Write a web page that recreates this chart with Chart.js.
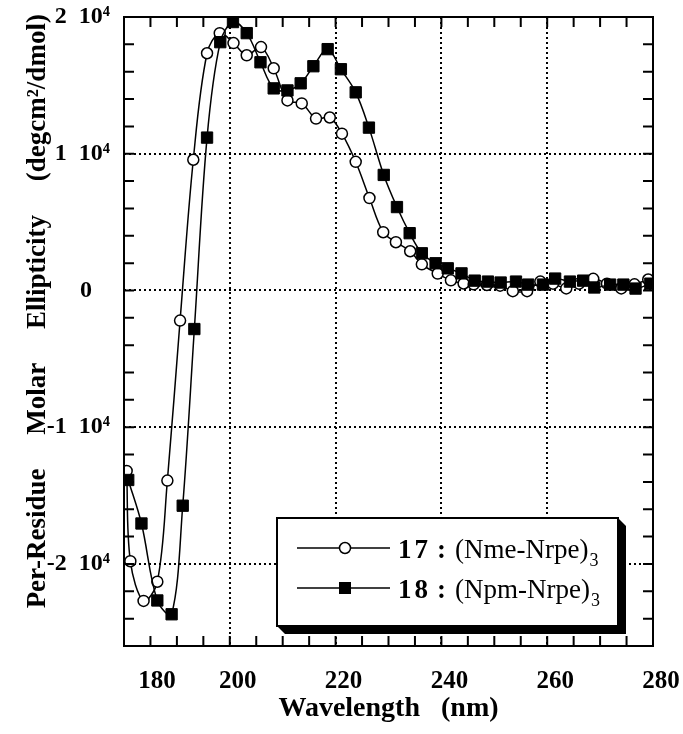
<!DOCTYPE html>
<html>
<head>
<meta charset="utf-8">
<script src="https://cdn.jsdelivr.net/npm/chart.js@4.4.1/dist/chart.umd.min.js"></script>
<style>
  html, body { margin: 0; padding: 0; background: #fff; }
  #wrap { width: 683px; height: 734px; }
</style>
</head>
<body>
<div id="wrap"><canvas id="cd" width="683" height="734"></canvas></div>
<script>
/* ---------- DATA ---------- */
const wl17 = [180.5, 181.2, 183.7, 186.3, 188.2, 190.6, 193.1, 195.7, 198.1, 200.7, 203.2, 205.9, 208.3, 210.9, 213.6, 216.3, 218.9, 221.2, 223.8, 226.4, 229.0, 231.4, 234.1, 236.3, 239.3, 241.8, 244.2, 246.1, 248.6, 251.1, 253.5, 256.2, 258.7, 261.1, 263.6, 266.0, 268.7, 271.3, 274.0, 276.5, 279.1];
const cd17 = [-13200, -19800, -22700, -21300, -13900, -2200, 9560, 17350, 18820, 18090, 17200, 17800, 16250, 13900, 13680, 12570, 12650, 11470, 9410, 6760, 4260, 3530, 2870, 1910, 1240, 740, 510, 450, 400, 350, -50, -50, 650, 500, 150, 500, 850, 500, 150, 450, 800];

const wl18 = [180.8, 183.3, 186.3, 189.0, 191.1, 193.3, 195.7, 198.2, 200.6, 203.2, 205.8, 208.3, 210.9, 213.4, 215.8, 218.5, 221.0, 223.8, 226.3, 229.1, 231.6, 234.0, 236.3, 238.9, 241.2, 243.8, 246.3, 248.8, 251.2, 254.1, 256.4, 259.2, 261.5, 264.3, 266.8, 268.9, 271.9, 274.4, 276.7, 279.5];
const cd18 = [-13860, -17040, -22670, -23680, -15740, -2820, 11180, 18160, 19630, 18820, 16690, 14780, 14630, 15150, 16400, 17650, 16180, 14490, 11910, 8450, 6100, 4190, 2720, 1990, 1620, 1250, 720, 650, 580, 650, 430, 430, 870, 650, 720, 220, 430, 430, 140, 500];

const xTicks = [180, 200, 220, 240, 260, 280];
const yTicks = [-20000, -10000, 0, 10000, 20000];
const legendNums = ["17", "18"];
const legendNames = ["(Nme-Nrpe)", "(Npm-Nrpe)"];
const legendSub = "3";

const SERIF = "'Liberation Serif', 'Times New Roman', serif";
const toPts = (xs, ys) => xs.map((x, i) => ({ x, y: ys[i] }));

/* ---------- FRAME, MINOR TICKS, LEGEND ---------- */
const decor = {
  id: "decor",
  afterDraw(chart) {
    const { ctx, chartArea: a, scales: { x, y } } = chart;
    ctx.save();
    ctx.strokeStyle = "#000";
    ctx.lineWidth = 2;

    // inward minor ticks
    ctx.beginPath();
    for (let v = 180; v <= 280; v += 5) {
      const px = x.getPixelForValue(v);
      ctx.moveTo(px, a.bottom); ctx.lineTo(px, a.bottom - 10);
      ctx.moveTo(px, a.top); ctx.lineTo(px, a.top + 10);
    }
    for (let v = -26000; v <= 20000; v += 2000) {
      const py = y.getPixelForValue(v);
      ctx.moveTo(a.left, py); ctx.lineTo(a.left + 10, py);
      ctx.moveTo(a.right, py); ctx.lineTo(a.right - 10, py);
    }
    ctx.stroke();
    ctx.strokeRect(a.left, a.top, a.right - a.left, a.bottom - a.top);

    // legend box with shadow
    const lx = 277, ly = 518, lw = 341, lh = 108, sh = 8;
    ctx.fillStyle = "#000";
    ctx.beginPath();
    ctx.moveTo(lx + lw, ly);
    ctx.lineTo(lx + lw + sh, ly + sh);
    ctx.lineTo(lx + lw + sh, ly + lh + sh);
    ctx.lineTo(lx + sh, ly + lh + sh);
    ctx.lineTo(lx, ly + lh);
    ctx.closePath();
    ctx.fill();
    ctx.fillStyle = "#fff";
    ctx.fillRect(lx, ly, lw, lh);
    ctx.strokeRect(lx, ly, lw, lh);

    const rows = [548, 588];
    rows.forEach((ry, i) => {
      ctx.lineWidth = 1.5;
      ctx.beginPath();
      ctx.moveTo(297, ry); ctx.lineTo(390, ry);
      ctx.stroke();
      if (i === 0) {
        ctx.fillStyle = "#fff";
        ctx.beginPath();
        ctx.arc(345, ry, 5.5, 0, Math.PI * 2);
        ctx.fill(); ctx.stroke();
      } else {
        ctx.fillStyle = "#000";
        ctx.fillRect(339, ry - 6, 12, 12);
      }
      const base = ry + 10;
      ctx.fillStyle = "#000";
      ctx.textBaseline = "alphabetic";
      ctx.font = "bold 27px " + SERIF;
      ctx.letterSpacing = "3px";
      ctx.fillText(legendNums[i], 398, base);
      ctx.letterSpacing = "0px";
      ctx.fillText(":", 437, base);
      ctx.font = "27px " + SERIF;
      ctx.fillText(legendNames[i], 455, base);
      const w = ctx.measureText(legendNames[i]).width;
      ctx.font = "18px " + SERIF;
      ctx.fillText(legendSub, 455 + w + 1, base + 8);
    });
    ctx.restore();
  }
};

/* ---------- CHART ---------- */
new Chart(document.getElementById("cd"), {
  type: "line",
  data: {
    datasets: [
      {
        label: "17: (Nme-Nrpe)3",
        data: toPts(wl17, cd17),
        borderColor: "#000",
        borderWidth: 1.5,
        pointStyle: "circle",
        pointRadius: 5.5,
        pointBackgroundColor: "#fff",
        pointBorderColor: "#000",
        pointBorderWidth: 1.5,
        tension: 0.35,
        order: 1
      },
      {
        label: "18: (Npm-Nrpe)3",
        data: toPts(wl18, cd18),
        borderColor: "#000",
        borderWidth: 1.5,
        pointStyle: "rect",
        pointRadius: 8,
        pointBackgroundColor: "#000",
        pointBorderColor: "#000",
        pointBorderWidth: 1,
        tension: 0.35,
        order: 0
      }
    ]
  },
  options: {
    responsive: false,
    animation: false,
    layout: { padding: { top: 17, right: 30, left: 0, bottom: 0 } },
    plugins: { legend: { display: false }, tooltip: { enabled: false } },
    scales: {
      x: {
        type: "linear",
        min: 180,
        max: 280,
        afterBuildTicks: s => { s.ticks = xTicks.map(v => ({ value: v })); },
        afterFit: s => {
          s.height = 88;
          s.paddingLeft = 0;
          s.paddingRight = 0;
        },
        grid: { color: "#000", lineWidth: 2, drawTicks: false },
        border: { display: false, dash: [2, 3] },
        ticks: {
          padding: 21,
          color: "#000",
          font: { family: SERIF, size: 25, weight: "bold" },
          maxRotation: 0,
          labelOffset: 8,
          callback: v => (v === 180 ? "        180" : String(v))
        },
        title: {
          display: true,
          text: "Wavelength   (nm)",
          color: "#000",
          font: { family: SERIF, size: 28, weight: "bold" },
          padding: { top: 0, bottom: 8 }
        }
      },
      y: {
        min: -26000,
        max: 20000,
        afterBuildTicks: s => { s.ticks = yTicks.map(v => ({ value: v })); },
        afterFit: s => {
          s.width = 124;
          s.paddingTop = 0;
          s.paddingBottom = 0;
        },
        grid: { color: "#000", lineWidth: 2, drawTicks: false },
        border: { display: false, dash: [2, 3] },
        ticks: {
          padding: 14,
          color: "#000",
          font: { family: SERIF, size: 24, weight: "bold" },
          callback: v => (v === 0 ? "0   " : (v / 10000) + "  10\u2074")
        },
        title: {
          display: true,
          text: "      Per-Residue     Molar     Ellipticity     (degcm\u00b2/dmol)",
          color: "#000",
          font: { family: SERIF, size: 27, weight: "bold" },
          padding: { top: 22, bottom: 0 }
        }
      }
    }
  },
  plugins: [decor]
});
</script>
</body>
</html>
